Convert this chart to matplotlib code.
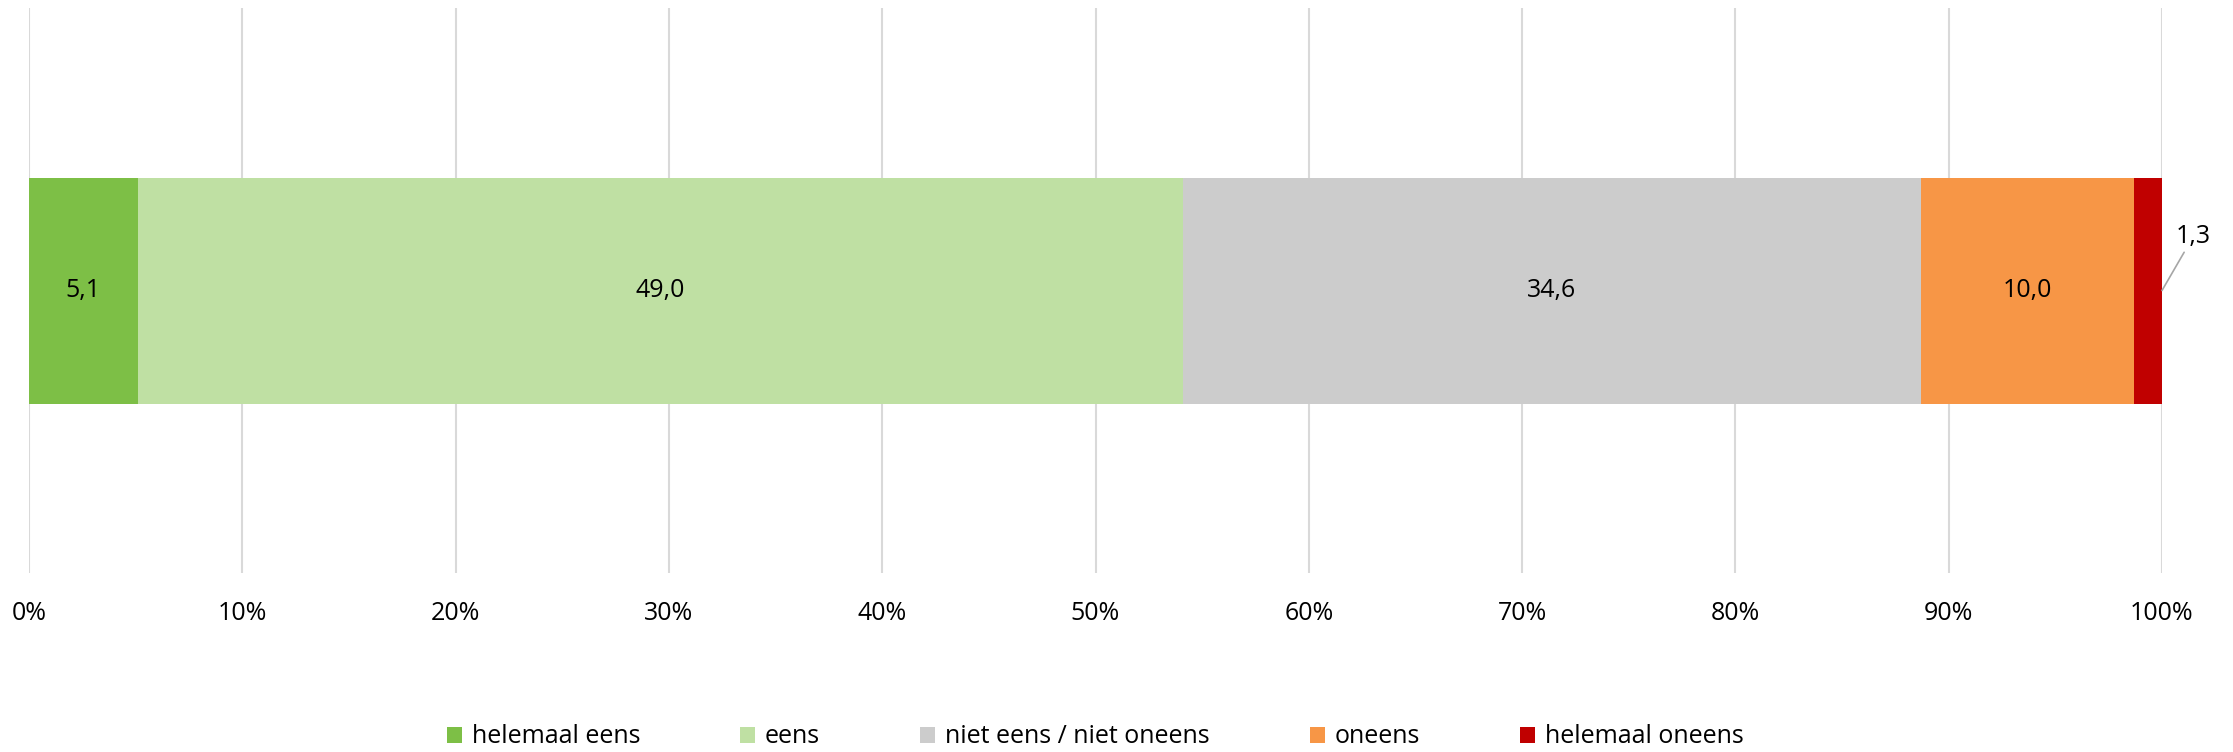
import numpy as np
import matplotlib.pyplot as plt
from matplotlib.ticker import FuncFormatter

categories = ['helemaal eens', 'eens', 'niet eens / niet oneens', 'oneens', 'helemaal oneens']
values = [5.1, 49.0, 34.6, 10.0, 1.3]
labels = ['5,1', '49,0', '34,6', '10,0', '1,3']
colors = ['#7dbf46', '#bfe0a3', '#cccccc', '#f79646', '#c00000']

plt.rcParams['font.family'] = ['Open Sans', 'DejaVu Sans']
plt.rcParams['font.size'] = 18

fig = plt.figure(figsize=(22.33, 7.52), dpi=100)
ax = fig.add_axes([29 / 2233, 1 - 573 / 752, (2162 - 29) / 2233, (573 - 8) / 752])

left = 0
for cat, val, lab, col in zip(categories, values, labels, colors):
    ax.barh(0, val, left=left, height=0.4, color=col, label=cat, zorder=2)
    if val > 3:
        ax.text(left + val / 2, 0, lab, ha='center', va='center', zorder=3)
    else:
        # small slice: label outside with leader line
        ax.annotate(lab, xy=(left + val, 0), xytext=(31, 41), textcoords='offset pixels',
                    ha='center', va='bottom',
                    arrowprops=dict(arrowstyle='-', color='#a6a6a6', lw=1.2, shrinkA=0, shrinkB=0))
    left += val

ax.set_xlim(0, 100)
ax.set_ylim(-0.5, 0.5)
ax.set_xticks(np.arange(0, 101, 10))
ax.xaxis.set_major_formatter(FuncFormatter(lambda x, p: f'{int(x)}%'))
ax.set_yticks([])
ax.grid(axis='x', color='#d9d9d9', lw=1.5, zorder=0)
ax.tick_params(axis='x', length=0, pad=20)
for s in ax.spines.values():
    s.set_visible(False)

fig.legend(loc='center', bbox_to_anchor=(0.4905, 0.02), ncol=5, frameon=False,
           handlelength=0.6, handleheight=0.6, handletextpad=0.4, columnspacing=4.0)

fig.savefig('out.png', dpi=100)
